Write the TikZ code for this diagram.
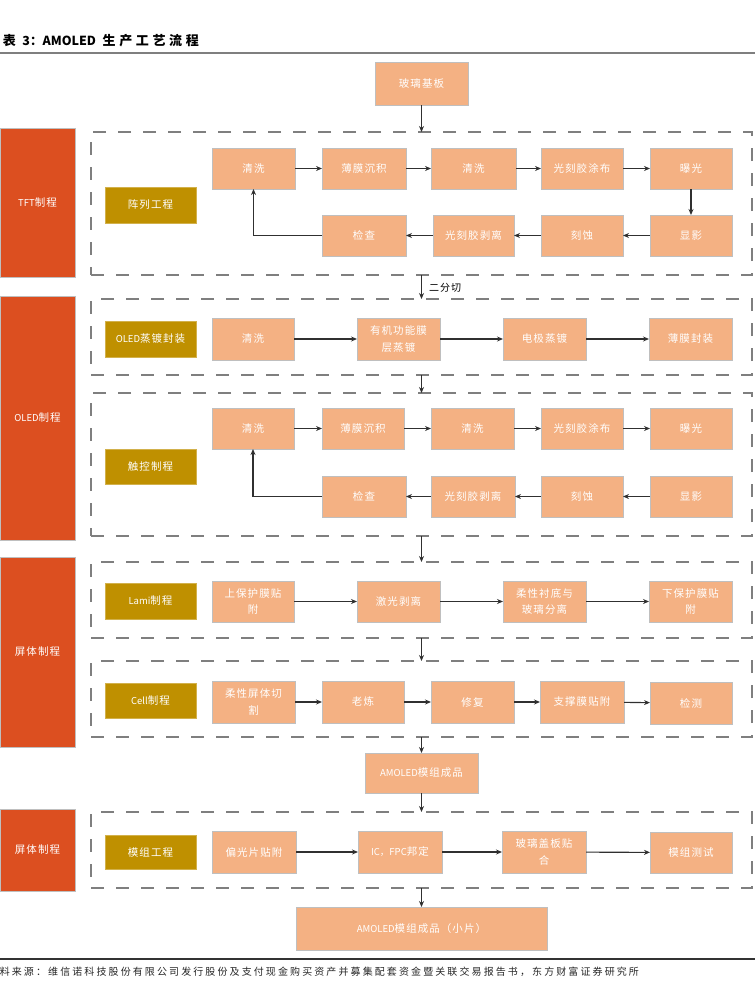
\documentclass[tikz,border=0pt]{standalone}
\usepackage{fontspec}
\usetikzlibrary{arrows.meta}
\newfontfamily\cjk[LetterSpace=10]{Noto Sans CJK SC}
\newfontfamily\cjkn{Noto Sans CJK SC}
\newfontfamily\cjkt[LetterSpace=28]{Noto Sans CJK SC}
\newfontfamily\cjks[LetterSpace=21]{Noto Sans CJK SC}
\definecolor{orng}{HTML}{DC4F20}
\definecolor{gold}{HTML}{BF9000}
\definecolor{peach}{HTML}{F4B183}
\definecolor{boxgray}{HTML}{BFBFBF}
\definecolor{framegray}{HTML}{7F7F7F}
\definecolor{arrowc}{HTML}{303030}
\newcommand\lat[1]{{\cjkn\fontsize{9.5}{10}\selectfont #1}}
\newcommand\bx[7]{\node[#6, minimum width={(#4)-(#2)}, minimum height={(#5)-(#3)}] (#1) at ({((#2)+(#4))/2},{((#3)+(#5))/2}) {#7};}
\tikzset{
  base/.style={inner sep=0pt, outer sep=0pt, align=center, text=white, font=\cjk\fontsize{10.5}{16.5}\selectfont},
  stepbox/.style={base, fill=peach, draw=boxgray, line width=0.8pt},
  phasebox/.style={base, fill=gold, draw=gold!70!white, line width=0.6pt},
  sidebox/.style={base, fill=orng, draw=boxgray, line width=0.6pt},
  frame/.style={inner sep=0pt, outer sep=0pt, draw=framegray, line width=2.8pt, dash pattern=on 13pt off 12pt},
  arr/.style={draw=arrowc, line width=1.1pt, -{Stealth[length=6pt,width=5pt]}},
}
\begin{document}
\begin{tikzpicture}[x=1pt,y=-1pt]
\useasboundingbox (0,0) rectangle (755,982);
% title
\node[anchor=base west, inner sep=0pt, text=black] (title) at (-14,46)
  {\bfseries\cjkt\fontsize{13}{15}\selectfont 图表\ {\cjkn\fontsize{12.5}{14}\selectfont\bfseries 3：AMOLED} 生产工艺流程};
\coordinate (tl1) at (0,53); \coordinate (tl2) at (755,53);
\draw[framegray, line width=1.5pt] (tl1) -- (tl2);
% source
\coordinate (bl1) at (0,959); \coordinate (bl2) at (755,959);
\draw[black!80, line width=1.5pt] (bl1) -- (bl2);
\node[anchor=base west, inner sep=0pt, text=black!85] (src) at (-12.5,975)
  {\cjks\fontsize{10}{12}\selectfont 资料来源：维信诺科技股份有限公司发行股份及支付现金购买资产并募集配套资金暨关联交易报告书，东方财富证券研究所};

% side boxes
\bx{l1}{0}{128}{75}{277}{sidebox}{\lat{TFT}制程}
\bx{l2}{0}{296}{75}{540}{sidebox}{\lat{OLED}制程}
\bx{l3}{0}{557}{75}{747}{sidebox}{屏体制程}
\bx{l4}{0}{809}{75}{891}{sidebox}{屏体制程}

% frames
\bx{dt}{91}{132}{752}{275}{frame}{}
\bx{do}{91}{299}{752}{375}{frame}{}
\bx{dc}{91}{393}{752}{536}{frame}{}
\bx{dl}{91}{562}{752}{638}{frame}{}
\bx{dce}{91}{661}{752}{737}{frame}{}
\bx{dm}{91}{812}{752}{888}{frame}{}

% phase boxes
\bx{gt}{105}{187}{196}{223}{phasebox}{阵列工程}
\bx{go}{105}{321}{196}{357}{phasebox}{\lat{OLED}蒸镀封装}
\bx{gc}{105}{449}{196}{484}{phasebox}{触控制程}
\bx{gl}{105}{583}{196}{619}{phasebox}{\lat{Lami}制程}
\bx{gce}{105}{683}{196}{718}{phasebox}{\lat{Cell}制程}
\bx{gm}{105}{835}{196}{869}{phasebox}{模组工程}

% top
\bx{t0}{375}{62}{468}{105}{stepbox}{玻璃基板}

% TFT
\bx{ta1}{212}{148}{295}{189}{stepbox}{清洗}
\bx{ta2}{322}{148}{406}{189}{stepbox}{薄膜沉积}
\bx{ta3}{431}{148}{516}{189}{stepbox}{清洗}
\bx{ta4}{541}{148}{623}{189}{stepbox}{光刻胶涂布}
\bx{ta5}{650}{148}{732}{189}{stepbox}{曝光}
\bx{tb2}{322}{215}{406}{256}{stepbox}{检查}
\bx{tb3}{433}{215}{514}{256}{stepbox}{光刻胶剥离}
\bx{tb4}{541}{215}{623}{256}{stepbox}{刻蚀}
\bx{tb5}{650}{215}{732}{256}{stepbox}{显影}

% OLED evaporation
\bx{oa1}{212}{318}{294}{360}{stepbox}{清洗}
\bx{oa2}{357}{318}{440}{360}{stepbox}{有机功能膜\\层蒸镀}
\bx{oa3}{503}{318}{586}{360}{stepbox}{电极蒸镀}
\bx{oa4}{649}{318}{732}{360}{stepbox}{薄膜封装}

% touch
\bx{ca1}{212}{408}{294}{449}{stepbox}{清洗}
\bx{ca2}{322}{408}{404}{449}{stepbox}{薄膜沉积}
\bx{ca3}{431}{408}{514}{449}{stepbox}{清洗}
\bx{ca4}{541}{408}{623}{449}{stepbox}{光刻胶涂布}
\bx{ca5}{650}{408}{732}{449}{stepbox}{曝光}
\bx{cb2}{322}{476}{406}{517}{stepbox}{检查}
\bx{cb3}{431}{476}{515}{517}{stepbox}{光刻胶剥离}
\bx{cb4}{541}{476}{623}{517}{stepbox}{刻蚀}
\bx{cb5}{650}{476}{732}{517}{stepbox}{显影}

% Lami
\bx{la1}{212}{581}{294}{622}{stepbox}{上保护膜贴\\附}
\bx{la2}{357}{581}{440}{622}{stepbox}{激光剥离}
\bx{la3}{503}{581}{586}{622}{stepbox}{柔性衬底与\\玻璃分离}
\bx{la4}{649}{581}{732}{622}{stepbox}{下保护膜贴\\附}

% Cell
\bx{ea1}{212}{681}{295}{723}{stepbox}{柔性屏体切\\割}
\bx{ea2}{322}{681}{404}{723}{stepbox}{老炼}
\bx{ea3}{431}{681}{514}{723}{stepbox}{修复}
\bx{ea4}{540}{681}{624}{723}{stepbox}{支撑膜贴附}
\bx{ea5}{650}{682}{732}{724}{stepbox}{检测}

\bx{am}{365}{753}{478}{793}{stepbox}{\lat{AMOLED}模组成品}

% module
\bx{ma1}{212}{831}{296}{873}{stepbox}{偏光片贴附}
\bx{ma2}{358}{831}{442}{873}{stepbox}{\lat{IC，FPC}邦定}
\bx{ma3}{502}{831}{586}{873}{stepbox}{玻璃盖板贴\\合}
\bx{ma4}{650}{832}{732}{873}{stepbox}{模组测试}

\bx{sm}{296}{907}{547}{950}{stepbox}{\lat{AMOLED}模组成品（小片）}

% trunk arrows
\draw[arr] (t0.south) -- (dt.north);
\draw[arr] (dt.south) -- (do.north);
\node[anchor=west, inner sep=0pt, text=black, font=\cjk\fontsize{10}{12}\selectfont] (cut) at (429,288) {二分切};
\draw[arr] (do.south) -- (dc.north);
\draw[arr] (dc.south) -- (dl.north);
\draw[arr] (dl.south) -- (dce.north);
\draw[arr] (dce.south) -- (am.north);
\draw[arr] (am.south) -- (dm.north);
\draw[arr] (dm.south) -- (sm.north);

% TFT arrows
\draw[arr] (ta1) -- (ta2);
\draw[arr] (ta2) -- (ta3);
\draw[arr] (ta3) -- (ta4);
\draw[arr] (ta4) -- (ta5);
\draw[arr] (ta5) -- (tb5);
\draw[arr] (tb5) -- (tb4);
\draw[arr] (tb4) -- (tb3);
\draw[arr] (tb3) -- (tb2);
\draw[arr] (tb2.west) -| (ta1.south);

% OLED arrows
\draw[arr] (oa1) -- (oa2);
\draw[arr] (oa2) -- (oa3);
\draw[arr] (oa3) -- (oa4);

% touch arrows
\draw[arr] (ca1) -- (ca2);
\draw[arr] (ca2) -- (ca3);
\draw[arr] (ca3) -- (ca4);
\draw[arr] (ca4) -- (ca5);
\draw[arr] (cb5) -- (cb4);
\draw[arr] (cb4) -- (cb3);
\draw[arr] (cb3) -- (cb2);
\draw[arr] (cb2.west) -| (ca1.south);

% Lami arrows
\draw[arr] (la1) -- (la2);
\draw[arr] (la2) -- (la3);
\draw[arr] (la3) -- (la4);

% Cell arrows
\draw[arr] (ea1) -- (ea2);
\draw[arr] (ea2) -- (ea3);
\draw[arr] (ea3) -- (ea4);
\draw[arr] (ea4) -- (ea5);

% module arrows
\draw[arr] (ma1) -- (ma2);
\draw[arr] (ma2) -- (ma3);
\draw[arr] (ma3) -- (ma4);
\end{tikzpicture}
\end{document}
